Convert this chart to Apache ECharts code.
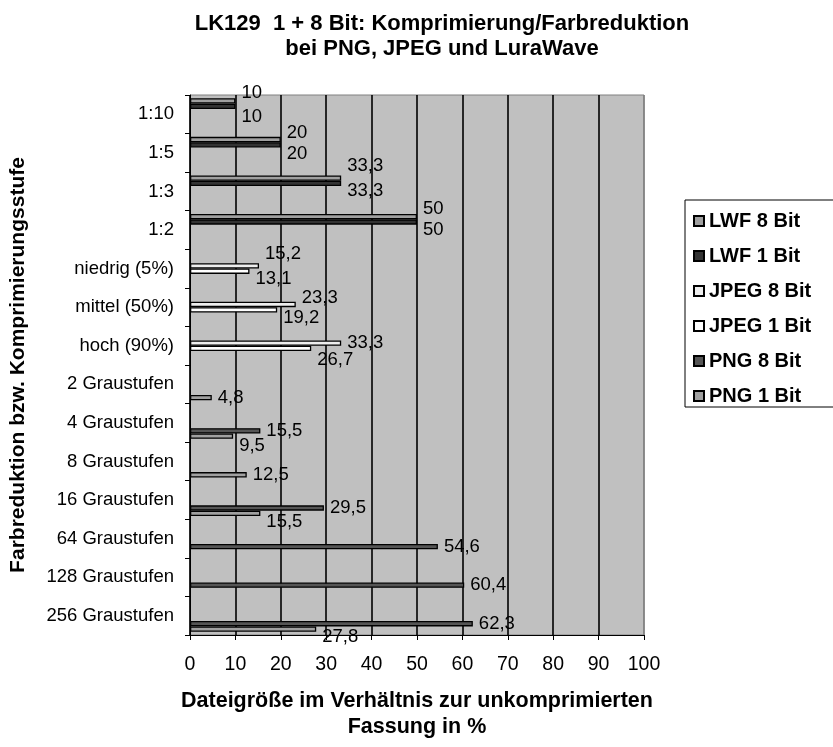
<!DOCTYPE html>
<html>
<head>
<meta charset="utf-8">
<script src="https://cdn.jsdelivr.net/npm/echarts@6/dist/echarts.min.js"></script>
<style>html,body{margin:0;padding:0;background:#fff}#c{width:833px;height:747px}</style>
</head>
<body>
<div id="c"></div>
<script>
// ---- data ----
const categories = ['1:10','1:5','1:3','1:2','niedrig (5%)','mittel (50%)','hoch (90%)',
  '2 Graustufen','4 Graustufen','8 Graustufen','16 Graustufen','64 Graustufen','128 Graustufen','256 Graustufen'];
const seriesNames = ['LWF 8 Bit','LWF 1 Bit','JPEG 8 Bit','JPEG 1 Bit','PNG 8 Bit','PNG 1 Bit'];
const lwf8  = [10, 20, 33.3, 50, null, null, null, null, null, null, null, null, null, null];
const lwf1  = [10, 20, 33.3, 50, null, null, null, null, null, null, null, null, null, null];
const jpeg8 = [null, null, null, null, 15.2, 23.3, 33.3, null, null, null, null, null, null, null];
const jpeg1 = [null, null, null, null, 13.1, 19.2, 26.7, null, null, null, null, null, null, null];
const png8  = [null, null, null, null, null, null, null, null, 15.5, null, 29.5, 54.6, 60.4, 62.3];
const png1  = [null, null, null, null, null, null, null, 4.8, 9.5, 12.5, 15.5, null, null, 27.8];
const xTicks = [0,10,20,30,40,50,60,70,80,90,100];

// ---- style ----
const colors = ['#a0a0a0','#333333','#eeeeee','#ffffff','#555555','#a0a0a0'];
// vertical nudge of value labels (px), per series, per category (style only)
const labelNudge = {
  'LWF 8 Bit':  {0:-8, 1:-7, 2:-12, 3:-8},
  'LWF 1 Bit':  {0:11, 1:9, 2:7, 3:8},
  'JPEG 8 Bit': {4:-12, 5:-7},
  'JPEG 1 Bit': {4:8, 5:8, 6:12},
  'PNG 8 Bit':  {},
  'PNG 1 Bit':  {8:10, 10:9, 13:8}
};
const FONT = "'Liberation Sans', Arial, sans-serif";
const allData = [lwf8, lwf1, jpeg8, jpeg1, png8, png1];

const series = seriesNames.map((name, si) => ({
  name: name,
  type: 'bar',
  barGap: '0%',
  barCategoryGap: '17%',
  itemStyle: { color: colors[si], borderColor: '#000', borderWidth: 1.3 },
  label: {
    show: true, position: 'right', distance: 6,
    color: '#000', fontSize: 18.5, fontFamily: FONT,
    formatter: p => String(p.value).replace('.', ',')
  },
  data: allData[si].map((v, ci) => {
    if (v === null) return null;
    const dy = labelNudge[name][ci] || 0;
    return { value: v, label: { offset: [0, dy] } };
  })
}));

const chart = echarts.init(document.getElementById('c'), null, { renderer: 'canvas' });
chart.setOption({
  animation: false,
  backgroundColor: '#fff',
  textStyle: { fontFamily: FONT },
  title: {
    text: 'LK129  1 + 8 Bit: Komprimierung/Farbreduktion\nbei PNG, JPEG und LuraWave',
    left: 437, top: 6, textAlign: 'center',
    textStyle: { fontSize: 22, fontWeight: 'bold', color: '#000', lineHeight: 25, fontFamily: FONT }
  },
  legend: {
    orient: 'vertical', left: 685, top: 200,
    data: seriesNames,
    icon: 'rect',
    itemWidth: 10, itemHeight: 10, itemGap: 15,
    padding: [11, 60, 1, 8],
    borderColor: '#000', borderWidth: 1,
    textStyle: { fontSize: 20, fontWeight: 'bold', color: '#000', lineHeight: 20, fontFamily: FONT }
  },
  grid: {
    left: 190, right: 189, top: 95, bottom: 112,
    show: true, backgroundColor: '#c0c0c0', borderColor: '#808080', borderWidth: 1
  },
  xAxis: {
    type: 'value', min: 0, max: 100, interval: 10,
    name: 'Dateigröße im Verhältnis zur unkomprimierten\nFassung in %',
    nameLocation: 'middle', nameGap: 53,
    nameTextStyle: { fontSize: 21.5, fontWeight: 'bold', color: '#000', lineHeight: 26, fontFamily: FONT },
    axisLine: { show: true, lineStyle: { color: '#000', width: 1 } },
    axisTick: { show: true, length: 5, lineStyle: { color: '#000' } },
    axisLabel: { fontSize: 19.5, color: '#000', margin: 20, fontFamily: FONT,
      formatter: v => xTicks.indexOf(v) >= 0 ? String(v) : '' },
    splitLine: { show: true, lineStyle: { color: ['#000','#000','#000','#000','#000','#000','#000','#000','#000','#000','#808080'], width: 1.6 } }
  },
  yAxis: {
    type: 'category', inverse: true, data: categories,
    name: 'Farbreduktion bzw. Komprimierungsstufe',
    nameLocation: 'middle', nameGap: 161, nameRotate: 90,
    nameTextStyle: { fontSize: 21, fontWeight: 'bold', color: '#000', fontFamily: FONT },
    axisLine: { show: true, lineStyle: { color: '#000', width: 1 } },
    axisTick: { show: true, length: 5, lineStyle: { color: '#000' } },
    axisLabel: { fontSize: 18.5, color: '#000', margin: 16, fontFamily: FONT },
    splitLine: { show: false }
  },
  series: series
});
</script>
</body>
</html>
